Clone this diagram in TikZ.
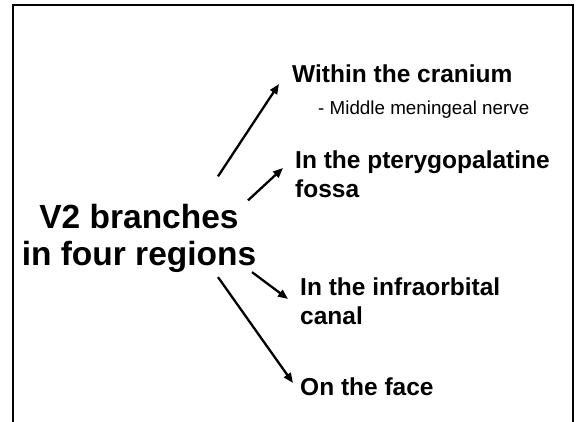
\documentclass[tikz,border=0pt]{standalone}
\usepackage{fontspec}
\setmainfont{Liberation Sans}
\usetikzlibrary{arrows.meta,positioning}

\begin{document}
\begin{tikzpicture}[
  x=1pt, y=-1pt,
  hub/.style={font=\bfseries\fontsize{33.5}{36.5}\selectfont, align=center, inner sep=0pt},
  region/.style={font=\bfseries\fontsize{24.5}{29}\selectfont, align=left, inner sep=0pt, anchor=base west},
  note/.style={font=\fontsize{18.8}{22}\selectfont, inner sep=0pt, anchor=base west},
  arr/.style={-{Triangle[length=10pt,width=8pt]}, line width=2.3pt}
]
\useasboundingbox (0,0) rectangle (577,422);
\draw[line width=2pt] (13,423) -- (13,5) -- (572.7,5) -- (572.7,423);

\node[hub] (hub) at (139,238.5) {V2 branches\\in four regions};
\node[region] (cranium) at (292,83) {Within the cranium};
\node[note] (meningeal) at (318,115) {- Middle meningeal nerve};
\node[region] (fossa) at (295,197) {In the pterygopalatine\\fossa};
\node[region] (canal) at (300,324) {In the infraorbital\\canal};
\node[region] (face) at (300,395) {On the face};

\draw[arr] ([shift={(79,-28)}]hub.north) -- ([shift={(-13,1)}]cranium.base west);
\draw[arr] ([shift={(109,-4)}]hub.north) -- ([shift={(-12,-29)}]fossa.base west);
\draw[arr] ([shift={(113,-0.5)}]hub.south) -- ([shift={(-12,-25)}]canal.base west);
\draw[arr] ([shift={(79,4.5)}]hub.south) -- ([shift={(-7,-12)}]face.base west);

\end{tikzpicture}
\end{document}
